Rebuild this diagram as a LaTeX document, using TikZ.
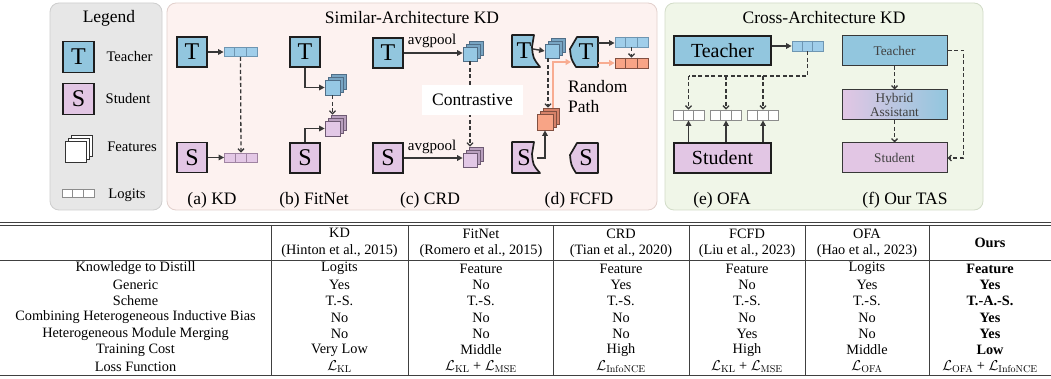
\RequirePackage{fix-cm}
\documentclass[tikz,border=0pt]{standalone}
\usepackage[no-math]{fontspec}
\setmainfont{Liberation Serif}
\usetikzlibrary{arrows.meta,calc}

\definecolor{dk}{RGB}{55,55,55}
\definecolor{dkb}{RGB}{30,30,30}
\definecolor{tblue}{RGB}{146,198,222}
\definecolor{spink}{RGB}{226,198,228}
\definecolor{lgblue}{RGB}{160,206,234}
\definecolor{lgblueb}{RGB}{110,150,178}
\definecolor{lgpink}{RGB}{228,200,230}
\definecolor{lgpinkb}{RGB}{160,132,162}
\definecolor{fblue}{RGB}{150,200,228}
\definecolor{fblue2}{RGB}{120,165,195}
\definecolor{fblueb}{RGB}{80,110,135}
\definecolor{fpink}{RGB}{226,200,230}
\definecolor{fpink2}{RGB}{185,160,190}
\definecolor{fpinkb}{RGB}{110,90,115}
\definecolor{forange}{RGB}{248,164,134}
\definecolor{forange2}{RGB}{215,130,105}
\definecolor{forangeb}{RGB}{130,80,65}
\definecolor{salmon}{RGB}{248,172,145}
\definecolor{lgray}{RGB}{231,231,231}
\definecolor{lgrayb}{RGB}{206,206,206}
\definecolor{ppink}{RGB}{253,242,240}
\definecolor{ppinkb}{RGB}{226,208,204}
\definecolor{pgreen}{RGB}{240,246,232}
\definecolor{pgreenb}{RGB}{210,220,200}

\tikzset{
  panel/.style={rounded corners=9pt, line width=0.8pt},
  arr/.style={draw=dk, line width=1.4pt, -{Triangle[length=5.5pt,width=5.5pt]}},
  sarr/.style={draw=salmon, line width=1.6pt, -{Triangle[length=5.5pt,width=6pt]}},
  darr/.style={draw=dk, line width=1.3pt, dash pattern=on 4pt off 2.5pt, -{Straight Barb[length=3pt,width=6pt]}},
  dline/.style={draw=dk, line width=1.3pt, dash pattern=on 4pt off 2.5pt},
  tb/.style={draw=dkb, line width=1.7pt, fill=tblue, minimum size=30pt, inner sep=0pt, font=\fontsize{24}{24}\selectfont},
  sb/.style={tb, fill=spink},
  shp/.style={draw=dkb, line width=1.7pt, line join=round},
  letter/.style={inner sep=0pt, font=\fontsize{24}{24}\selectfont},
  ob/.style={draw=dkb, line width=1.7pt, minimum width=97pt, minimum height=29pt, inner sep=0pt, font=\fontsize{20}{20}\selectfont},
  fb/.style={draw=dk, line width=1pt, minimum width=105pt, minimum height=30pt, inner sep=0pt, align=center, text=black!75, font=\fontsize{13.3}{14}\selectfont},
  featsq/.style={line width=0.7pt, inner sep=0pt},
  logit/.style={line width=0.8pt, inner sep=0pt},
  ttl/.style={inner sep=0pt, font=\fontsize{17.5}{20}\selectfont},
  lab/.style={inner sep=0pt, font=\fontsize{17.5}{20}\selectfont},
  leg/.style={inner sep=0pt, font=\fontsize{14.6}{16}\selectfont},
  avg/.style={inner sep=0pt, font=\fontsize{15}{16}\selectfont},
  tt/.style={inner sep=0pt, font=\fontsize{14.3}{16.4}\selectfont, align=center},
  rule/.style={draw=black!75, line width=0.9pt},
}

% name, x, y, front fill, draw, size, back fill
\newcommand{\featstack}[7]{%
  \node[featsq, minimum size=#6, fill=#7, draw=#5] (#1b) at (#2+6,#3-6) {};
  \node[featsq, minimum size=#6, fill=#7, draw=#5] (#1m) at (#2+3,#3-3) {};
  \node[featsq, minimum size=#6, fill=#4, draw=#5] (#1) at (#2,#3) {};}

% name, x, y, fill, draw, width, height
\newcommand{\logitrow}[7]{%
  \node[logit, minimum width=#6, minimum height=#7, fill=#4, draw=#5] (#1) at (#2,#3) {};
  \draw[#5, line width=0.8pt] ($(#1.north west)!1/3!(#1.north east)$) -- ($(#1.south west)!1/3!(#1.south east)$);
  \draw[#5, line width=0.8pt] ($(#1.north west)!2/3!(#1.north east)$) -- ($(#1.south west)!2/3!(#1.south east)$);}

% y, name, label, 6 entries
\newcommand{\trow}[9]{%
  \node[tt] (#2-0) at (135.5,#1) {#3};
  \node[tt] (#2-1) at (339.5,#1) {#4};
  \node[tt] (#2-2) at (481,#1) {#5};
  \node[tt] (#2-3) at (621,#1) {#6};
  \node[tt] (#2-4) at (747,#1) {#7};
  \node[tt] (#2-5) at (867,#1) {#8};
  \node[tt] (#2-6) at (990,#1) {#9};}

\newcommand{\Lsub}[1]{$\mathcal{L}_{\mathrm{#1}}$}

\begin{document}
\begin{tikzpicture}[x=1pt,y=-1pt]
\useasboundingbox (0,0) rectangle (1051,379);
\fill[white] (0,0) rectangle (1051,379);

% ---------- panels ----------
\draw[panel, fill=lgray, draw=lgrayb] (50,3) rectangle (162,210);
\draw[panel, fill=ppink, draw=ppinkb] (167,3) rectangle (657,210);
\draw[panel, fill=pgreen, draw=pgreenb] (665,3) rectangle (983,210);

% ---------- legend ----------
\node[ttl] (legtitle) at (109,18) {Legend};
\node[tb, minimum size=31pt] (lgT) at (78.5,57) {T};
\node[leg] (lgTt) at (129.5,57) {Teacher};
\node[sb, minimum size=31pt] (lgS) at (78.5,99) {S};
\node[leg] (lgSt) at (128,99) {Student};
\featstack{lgF}{76}{152}{white}{black!80}{21pt}{white}
\node[leg] (lgFt) at (132,147) {Features};
\logitrow{lgL}{78}{193.5}{white}{black!45}{32pt}{8pt}
\node[leg] (lgLt) at (127,195) {Logits};

% ---------- similar-architecture ----------
\node[ttl] (simtitle) at (412,18) {Similar-Architecture KD};

% (a) KD
\node[tb] (aT) at (192,52) {T};
\logitrow{aLt}{240.5}{52}{lgblue}{lgblueb}{33pt}{9pt}
\node[sb] (aS) at (192,157.5) {S};
\logitrow{aLs}{241}{157.5}{lgpink}{lgpinkb}{33pt}{9pt}
\draw[arr] (aT.east) -- (aLt.west);
\draw[arr] (aS.east) -- (aLs.west);
\draw[darr] (aLt.south) -- (aLs.north);
\node[lab] (alab) at (212,200) {(a) KD};

% (b) FitNet
\node[tb] (bT) at (305,52) {T};
\node[sb] (bS) at (305,158) {S};
\featstack{bFt}{332.5}{87.5}{fblue}{fblueb}{15pt}{fblue2}
\featstack{bFs}{332.5}{128.5}{fpink}{fpinkb}{15pt}{fpink2}
\draw[arr] (bT.south) |- (bFt.west);
\draw[arr] (bS.north) |- (bFs.west);
\draw[darr] (bFt.south) -- (bFt.south |- bFsb.north);
\node[lab] (blab) at (314,200) {(b) FitNet};

% (c) CRD
\node[tb] (cT) at (388,53) {T};
\node[sb] (cS) at (388,158) {S};
\featstack{cFt}{470}{54}{fblue}{fblueb}{14pt}{fblue2}
\featstack{cFs}{470}{160}{fpink}{fpinkb}{14pt}{fpink2}
\draw[arr] (cT.east) -- (cT.east -| cFt.west);
\draw[arr] (cS.east) -- (cS.east -| cFs.west);
\node[avg] (cav1) at (432,41) {avgpool};
\node[avg] (cav2) at (432,147) {avgpool};
\draw[darr] (cFt.south) -- (cFt.south |- cFsb.north);
\node[fill=white, minimum width=101pt, minimum height=30pt, inner sep=0pt, font=\fontsize{17.5}{20}\selectfont] (cCon) at (472.5,100) {Contrastive};
\node[lab] (clab) at (430,200) {(c) CRD};

% (d) FCFD
\draw[shp, fill=tblue] (512,35) -- (534,35) -- (532,47) .. controls (533,58) .. (540,67) -- (512,67) -- cycle;
\node[letter] (dTl) at (524,51) {T};
\draw[shp, fill=tblue] (598,37) -- (577,37) -- (570,49) .. controls (571,59) .. (576,67) -- (598,67) -- cycle;
\node[letter] (dTr) at (586,52) {T};
\draw[shp, fill=spink] (512,142) -- (534,142) -- (532,154) .. controls (533,165) .. (540,173) -- (512,173) -- cycle;
\node[letter] (dSl) at (524,158) {S};
\draw[shp, fill=spink] (598,143) -- (577,143) -- (570,155) .. controls (571,165) .. (576,173) -- (598,173) -- cycle;
\node[letter] (dSr) at (586,158) {S};
\coordinate (dTlr) at (533,49);
\coordinate (dTrl) at (571,62);
\coordinate (dTrr1) at (598,43);
\coordinate (dTrr2) at (598,63);
\coordinate (dSlr) at (537,158);
\featstack{dF}{552}{51}{fblue}{fblueb}{14pt}{fblue2}
\featstack{dO}{545}{122}{forange}{forangeb}{16pt}{forange2}
\logitrow{dL1}{631.5}{42}{lgblue}{lgblueb}{33pt}{10pt}
\logitrow{dL2}{631.5}{63}{forange}{forangeb}{33pt}{10pt}
\draw[arr] (dTlr) -- (dF.west);
\draw[arr] (dTrr1) -- (dTrr1 -| dL1.west);
\draw[sarr] (dTrr2) -- (dTrr2 -| dL2.west);
\draw[darr] (dL1.south) -- (dL2.north);
\draw[darr] ([xshift=-4pt]dF.south) -- ([xshift=-4pt]dF.south |- dOb.north);
\draw[sarr] ([xshift=2pt]dOb.north) |- (dTrl);
\draw[arr] (dSlr) -| (dO.south);
\node[inner sep=0pt, align=left, anchor=north west, font=\fontsize{17.5}{20}\selectfont] (drp) at (568,80) {Random\\Path};
\node[lab] (dlab) at (579,200) {(d) FCFD};

% ---------- cross-architecture ----------
\node[ttl] (crosstitle) at (824,18) {Cross-Architecture KD};

% (e) OFA
\node[ob, fill=tblue] (eT) at (722.5,50.5) {Teacher};
\node[ob, fill=spink, minimum height=30pt] (eS) at (722.5,158) {Student};
\logitrow{eL}{807.5}{46}{lgblue}{lgblueb}{31pt}{10pt}
\logitrow{e1}{688.5}{115}{white}{black!45}{31pt}{10pt}
\logitrow{e2}{726}{115}{white}{black!45}{31pt}{10pt}
\logitrow{e3}{763}{115}{white}{black!45}{31pt}{10pt}
\draw[arr] (eT.east |- eL.west) -- (eL.west);
\coordinate (ebus) at (688.5,76);
\draw[dline] (eL.south) |- (ebus);
\draw[darr] (ebus) -- (e1.north);
\draw[darr] (e2.north |- ebus) -- (e2.north);
\draw[darr] (e3.north |- ebus) -- (e3.north);
\draw[arr] (e1.south |- eS.north) -- (e1.south);
\draw[arr] (e2.south |- eS.north) -- (e2.south);
\draw[arr] (e3.south |- eS.north) -- (e3.south);
\node[lab] (elab) at (722,200) {(e) OFA};

% (f) TAS
\node[fb, fill=tblue] (fT) at (894.5,50.5) {Teacher};
\node[fb, left color=spink, right color=tblue] (fH) at (894.5,105) {Hybrid\\Assistant};
\node[fb, fill=spink] (fS) at (894.5,158) {Student};
\draw[darr] (fT.south) -- (fH.north);
\draw[darr] (fH.south) -- (fS.north);
\draw[darr] (fT.east) -- ++(16,0) |- (fS.east);
\node[lab] (flab) at (905,200) {(f) Our TAS};

% ---------- table ----------
\draw[rule] (0,222) -- (1051,222);
\draw[rule] (0,225) -- (1051,225);
\draw[rule] (0,260) -- (1051,260);
\draw[rule] (0,375) -- (1051,375);
\foreach \xx in {271,408,553,689,805,929}
  \draw[rule] (\xx,225) -- (\xx,375);

\node[tt] (h1) at (339.5,243) {KD\\(Hinton et al., 2015)};
\node[tt] (h2) at (481,243) {FitNet\\(Romero et al., 2015)};
\node[tt] (h3) at (621,243) {CRD\\(Tian et al., 2020)};
\node[tt] (h4) at (747,243) {FCFD\\(Liu et al., 2023)};
\node[tt] (h5) at (867,243) {OFA\\(Hao et al., 2023)};
\node[tt] (h6) at (990,243) {\textbf{Ours}};

\trow{268.5}{r1}{Knowledge to Distill}{Logits}{Feature}{Feature}{Feature}{Logits}{\textbf{Feature}}
\trow{285}{r2}{Generic}{Yes}{No}{Yes}{No}{Yes}{\textbf{Yes}}
\trow{301}{r3}{Scheme}{T.-S.}{T.-S.}{T.-S.}{T.-S.}{T.-S.}{\textbf{T.-A.-S.}}
\trow{317.5}{r4}{Combining Heterogeneous Inductive Bias}{No}{No}{No}{No}{No}{\textbf{Yes}}
\trow{334}{r5}{Heterogeneous Module Merging}{No}{No}{No}{Yes}{No}{\textbf{Yes}}
\trow{350}{r6}{Training Cost}{Very Low}{Middle}{High}{High}{Middle}{\textbf{Low}}
\trow{366.5}{r7}{Loss Function}{\Lsub{KL}}{\Lsub{KL} + \Lsub{MSE}}{\Lsub{InfoNCE}}{\Lsub{KL} + \Lsub{MSE}}{\Lsub{OFA}}{\Lsub{OFA} + \Lsub{InfoNCE}}
\end{tikzpicture}
\end{document}
